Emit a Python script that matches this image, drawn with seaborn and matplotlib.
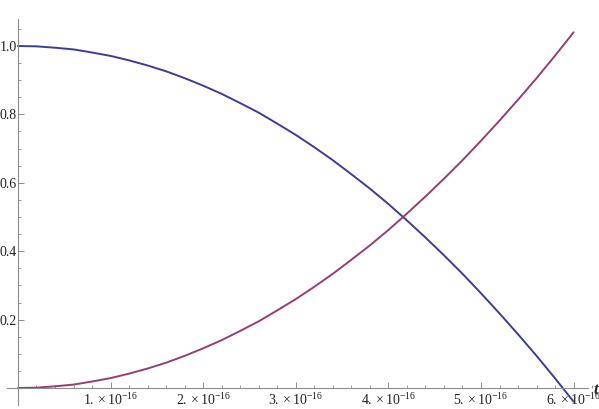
import numpy as np
import pandas as pd
import matplotlib
matplotlib.use("Agg")
import matplotlib.pyplot as plt
import seaborn as sns
from matplotlib.ticker import MultipleLocator, FixedLocator, FixedFormatter

# values (t in units of 1e-16)
t = [0.0, 0.2, 0.4, 0.6, 0.8, 1.0, 1.2, 1.4, 1.6, 1.8, 2.0, 2.2, 2.4, 2.6, 2.8,
     3.0, 3.2, 3.4, 3.6, 3.8, 4.0, 4.2, 4.4, 4.6, 4.8, 5.0, 5.2, 5.4, 5.6, 5.8, 6.0]
rising = [0.0, 0.001, 0.005, 0.010, 0.019, 0.029, 0.042, 0.057, 0.074, 0.094,
          0.116, 0.140, 0.167, 0.195, 0.227, 0.260, 0.296, 0.334, 0.375, 0.417,
          0.462, 0.510, 0.560, 0.612, 0.666, 0.723, 0.782, 0.843, 0.906, 0.972,
          1.040]
falling = [1.0, 0.999, 0.995, 0.990, 0.981, 0.971, 0.958, 0.943, 0.926, 0.906,
           0.884, 0.860, 0.833, 0.805, 0.773, 0.740, 0.704, 0.666, 0.625, 0.583,
           0.538, 0.490, 0.440, 0.388, 0.334, 0.277, 0.218, 0.157, 0.094, 0.028,
           -0.040]

x_ticks = [1, 2, 3, 4, 5, 6]
x_labels = [r"$%d.\times10^{-16}$" % k for k in x_ticks]
y_ticks = [0.2, 0.4, 0.6, 0.8, 1.0]
y_labels = ["0.2", "0.4", "0.6", "0.8", "1.0"]

sns.set_style("white")
plt.rcParams["font.family"] = ["Liberation Serif", "DejaVu Serif"]
plt.rcParams["mathtext.fontset"] = "custom"
plt.rcParams["mathtext.rm"] = "Liberation Serif"
plt.rcParams["mathtext.it"] = "Liberation Serif:italic"

df = pd.DataFrame({"t": t + t,
                   "value": falling + rising,
                   "curve": ["falling"] * len(t) + ["rising"] * len(t)})

fig = plt.figure(figsize=(5.99, 4.09), dpi=100)
ax = fig.add_axes([0, 0, 1, 1])

sns.lineplot(data=df, x="t", y="value", hue="curve",
             palette={"falling": "#3d3d99", "rising": "#993d71"},
             linewidth=1.4, legend=False, ax=ax, solid_joinstyle="round")

ax.set_xlim(-0.194, 6.274)
ax.set_ylim(-0.0614, 1.1345)

axis_col = "#8c8c8c"
for side in ["top", "right"]:
    ax.spines[side].set_visible(False)
ax.spines["left"].set_position(("data", 0))
ax.spines["bottom"].set_position(("data", 0))
ax.spines["left"].set_bounds(-0.05, 1.08)
ax.spines["bottom"].set_bounds(-0.12, 6.15)
for side in ["left", "bottom"]:
    ax.spines[side].set_color(axis_col)
    ax.spines[side].set_linewidth(0.8)

ax.xaxis.set_major_locator(FixedLocator(x_ticks))
ax.xaxis.set_major_formatter(FixedFormatter(x_labels))
ax.xaxis.set_minor_locator(MultipleLocator(0.2))
ax.yaxis.set_major_locator(FixedLocator(y_ticks))
ax.yaxis.set_major_formatter(FixedFormatter(y_labels))
ax.yaxis.set_minor_locator(FixedLocator([0.05, 0.1, 0.15, 0.25, 0.3, 0.35, 0.45, 0.5,
                                         0.55, 0.65, 0.7, 0.75, 0.85, 0.9, 0.95, 1.05]))

ax.tick_params(bottom=True, left=True, which="both")
ax.tick_params(axis="both", which="major", direction="in", length=4, width=0.7,
               color=axis_col, labelsize=10, labelcolor="#222222")
ax.tick_params(axis="both", which="minor", direction="in", length=2.2, width=0.6,
               color=axis_col)
ax.tick_params(axis="x", which="major", pad=3)
ax.tick_params(axis="y", which="major", pad=1)

ax.set_xlabel("")
ax.set_ylabel("")
ax.text(6.22, -0.005, "t", fontsize=12, fontweight="bold", fontstyle="italic",
        ha="left", va="center")

fig.savefig("out.png", dpi=100)
